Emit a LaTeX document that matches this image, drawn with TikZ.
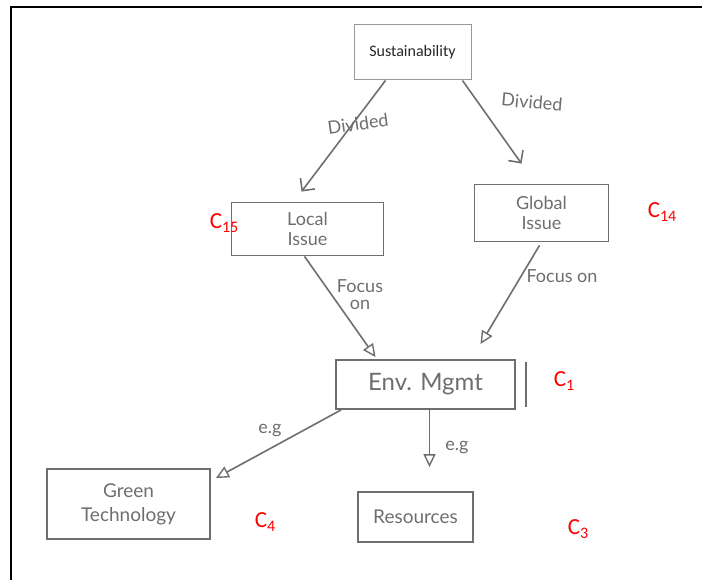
\documentclass[tikz,border=0pt]{standalone}
\usepackage{fontspec}
\setmainfont{Carlito}
\newfontfamily\hand{Lato}
\usetikzlibrary{arrows.meta}
\definecolor{pencil}{HTML}{6E6E6E}
\tikzset{
  box/.style={draw=pencil, line width=1.8pt, rectangle, inner sep=0pt, align=center,
              text=pencil, font=\hand\fontsize{18}{20}\selectfont},
  divarrow/.style={draw=pencil, line width=1.6pt, -{Straight Barb[length=9pt,width=18pt,line width=1.6pt]}},
  triarrow/.style={draw=pencil, line width=1.6pt, -{Triangle[open,length=13pt,width=12pt,line width=1.4pt]}},
  hlabel/.style={text=pencil, font=\hand\fontsize{18}{17}\selectfont, inner sep=0pt, align=center},
  clabel/.style={text=red, font=\fontsize{23}{23}\selectfont, inner sep=0pt},
  frameline/.style={draw=black, line width=1.6pt}
}
\newcommand{\csub}[2]{C{\fontsize{16}{16}\selectfont\raisebox{-0.2em}{#2}}}
\begin{document}
\begin{tikzpicture}[x=1pt,y=-1pt]
\useasboundingbox (0,0) rectangle (702,580);
% frame
\coordinate (ftl) at (11,7);
\coordinate (ftr) at (702,7);
\coordinate (fbl) at (11,580);
\draw[frameline] (fbl) -- (ftl) -- (ftr);

% nodes
\node[box, minimum width=117pt, minimum height=55pt, font=\fontsize{16}{18}\selectfont, text=black!85, draw=gray!80, line width=1pt] (sus) at (412.5,52.5) {Sustainability};
\node[box, minimum width=152pt, minimum height=53pt] (local) at (307.5,229) {Local\\Issue};
\node[box, minimum width=134pt, minimum height=57pt] (global) at (541.5,213) {Global\\Issue};
\node[box, minimum width=179pt, minimum height=49pt, font=\hand\fontsize{24}{26}\selectfont] (env) at (425.5,384.5) {Env. Mgmt};
\node[box, minimum width=163pt, minimum height=70pt, font=\hand\fontsize{19}{24}\selectfont] (green) at (128.5,504) {Green\\Technology};
\node[box, minimum width=115pt, minimum height=50pt, font=\hand\fontsize{19}{20}\selectfont] (res) at (415.5,517) {Resources};

% extra stroke on Env. Mgmt
\draw[pencil, line width=1.6pt] ([xshift=10pt,yshift=-3pt]env.north east) -- ([xshift=10pt,yshift=3pt]env.south east);

% connectors
\draw[divarrow] ([xshift=-27pt]sus.south) -- ([xshift=-6pt,yshift=10pt]local.north);
\draw[divarrow] ([xshift=50pt]sus.south) -- ([xshift=-20pt,yshift=20pt]global.north);
\draw[triarrow] ([xshift=-3pt]local.south) -- ([xshift=-50pt,yshift=2pt]env.north);
\draw[triarrow] ([xshift=-2pt,yshift=-3pt]global.south) -- ([xshift=55pt,yshift=15pt]env.north);
\draw[triarrow] ([xshift=6pt]env.south west) -- ([xshift=5pt,yshift=-10pt]green.north east);
\draw[triarrow] ([xshift=4pt]env.south) -- ([xshift=14pt,yshift=24pt]res.north);

% connector labels
\node[hlabel, rotate=8] (l1) at (358,124) {Divided};
\node[hlabel, rotate=-5] (l2) at (532,102) {Divided};
\node[hlabel] (l3) at (360,295) {Focus\\on};
\node[hlabel] (l4) at (562,276) {Focus on};
\node[hlabel] (l5) at (270,431) {e.g};
\node[hlabel] (l6) at (457,448) {e.g};

% red labels
\node[clabel] (c15) at (224,223) {\csub{C}{15}};
\node[clabel] (c14) at (662,212) {\csub{C}{14}};
\node[clabel] (c1) at (564,381) {\csub{C}{1}};
\node[clabel] (c4) at (265,522) {\csub{C}{4}};
\node[clabel] (c3) at (578,529) {\csub{C}{3}};
\end{tikzpicture}
\end{document}
